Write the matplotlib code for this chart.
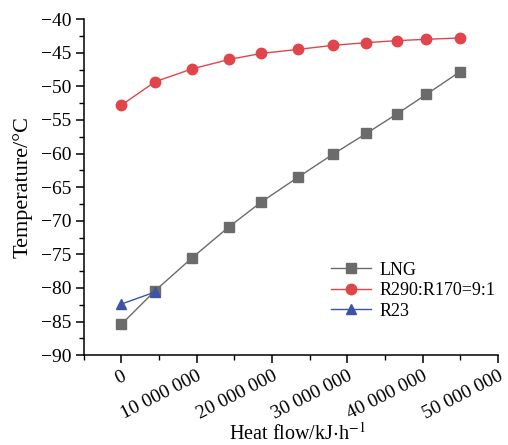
import matplotlib

matplotlib.use("Agg")

import matplotlib.pyplot as plt
from matplotlib.ticker import FuncFormatter, MultipleLocator

# heat flow in kJ/h, temperatures in °C
lng_flow = [0, 4.49e6, 9.4e6, 14.3e6, 18.6e6, 23.5e6, 28.1e6, 32.55e6, 36.6e6, 40.5e6, 45.0e6]
lng_temp = [-85.4, -80.4, -75.5, -70.9, -67.2, -63.5, -60.1, -57.0, -54.1, -51.2, -47.8]

mix_flow = [0, 4.49e6, 9.4e6, 14.3e6, 18.6e6, 23.5e6, 28.1e6, 32.55e6, 36.6e6, 40.5e6, 45.0e6]
mix_temp = [-52.8, -49.3, -47.4, -46.0, -45.1, -44.5, -43.9, -43.5, -43.2, -43.0, -42.8]

r23_flow = [0, 4.49e6]
r23_temp = [-82.4, -80.6]

x_ticks = [0, 10e6, 20e6, 30e6, 40e6, 50e6]

plt.rcParams["font.family"] = ["Liberation Serif", "DejaVu Serif"]
plt.rcParams["mathtext.fontset"] = "stix"

fig = plt.figure(figsize=(5.08, 4.45), dpi=100)
ax = fig.add_axes([0.165, 0.202, 0.815, 0.755])

ax.plot(lng_flow, lng_temp, color="#6b6b6b", marker="s", markersize=6.5,
        linewidth=1.0, label="LNG")
ax.plot(mix_flow, mix_temp, color="#e2444b", marker="o", markersize=7.5,
        linewidth=1.0, label="R290:R170=9:1")
ax.plot(r23_flow, r23_temp, color="#3a55a8", marker="^", markersize=7.5,
        linewidth=1.0, label="R23")

ax.set_xlim(-5e6, 50e6)
ax.set_ylim(-90, -40)
ax.set_xticks(x_ticks)
ax.xaxis.set_minor_locator(MultipleLocator(5e6))
ax.yaxis.set_major_locator(MultipleLocator(5))
ax.yaxis.set_minor_locator(MultipleLocator(2.5))


def spaced(v, _pos):
    return f"{int(round(v)):,}".replace(",", " ")


ax.xaxis.set_major_formatter(FuncFormatter(spaced))
for lab in ax.get_xticklabels():
    lab.set_rotation(27)
    lab.set_ha("right")
    lab.set_rotation_mode("anchor")

ax.tick_params(axis="both", which="major", direction="out", length=6,
               width=1.1, labelsize=14, pad=3)
ax.tick_params(axis="x", which="major", pad=3)
ax.tick_params(axis="both", which="minor", direction="out", length=3.5, width=1.0)

for side in ("top", "right"):
    ax.spines[side].set_visible(False)
for side in ("left", "bottom"):
    ax.spines[side].set_linewidth(1.1)

ax.set_xlabel(r"Heat flow/kJ$\cdot$h$^{-1}$", fontsize=14.5)
ax.set_ylabel("Temperature/°C", fontsize=16)
ax.xaxis.set_label_coords(0.515, -0.2)
ax.yaxis.set_label_coords(-0.125, 0.5)

ax.legend(loc="upper left", bbox_to_anchor=(0.58, 0.3), frameon=False,
          fontsize=13, handlelength=2.2, handletextpad=0.45, labelspacing=0.2,
          borderaxespad=0)

fig.savefig("out.png", dpi=100)
